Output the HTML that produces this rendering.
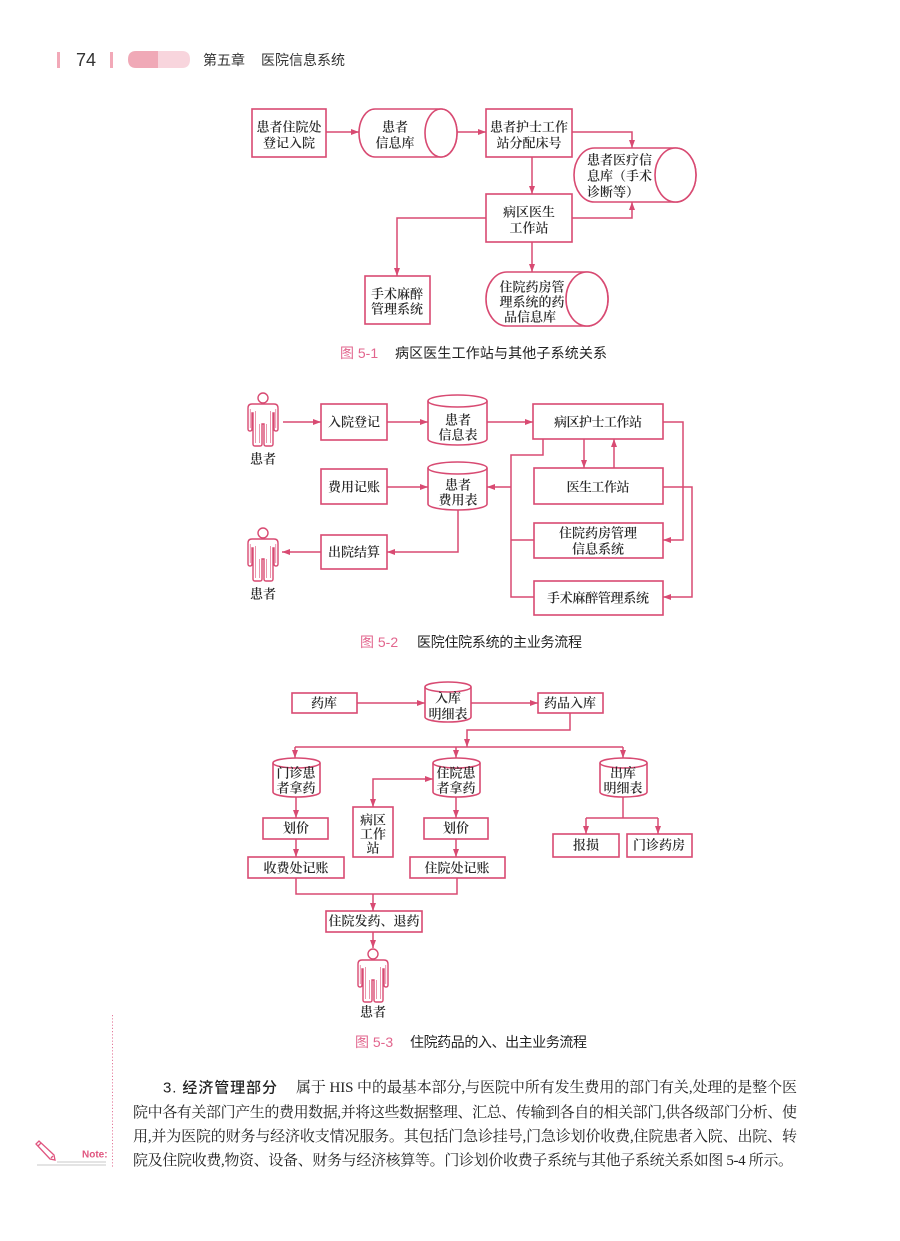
<!DOCTYPE html>
<html>
<head>
<meta charset="utf-8">
<style>
html,body{margin:0;padding:0;background:#fff;}
body{width:900px;height:1241px;overflow:hidden;}
svg{display:block;}
.ln{fill:none;stroke:#d84a72;stroke-width:1.5;}
.bx{fill:#fff;stroke:#d84a72;stroke-width:1.6;}
.t{font-family:"Liberation Serif","Noto Serif CJK SC",serif;font-size:13px;font-weight:600;fill:#2a2a2a;text-anchor:middle;dominant-baseline:central;}
.tl{font-family:"Liberation Serif","Noto Serif CJK SC",serif;font-size:13px;font-weight:600;fill:#2a2a2a;dominant-baseline:central;}
.cap{font-family:"Liberation Sans","Noto Sans CJK SC",sans-serif;font-size:14px;fill:#222;dominant-baseline:central;}
.capn{font-family:"Liberation Sans","Noto Sans CJK SC",sans-serif;font-size:14px;fill:#e2668e;dominant-baseline:central;}
.body{font-family:"Liberation Serif","Noto Serif CJK SC",serif;font-size:15px;fill:#222;dominant-baseline:central;}
.head{font-family:"Liberation Sans","Noto Sans CJK SC",sans-serif;font-size:15px;fill:#222;font-weight:500;dominant-baseline:central;}
.pers{fill:#fff;stroke:#d84a72;stroke-width:1.4;}
.persi{fill:none;stroke:#e88aa5;stroke-width:0.9;}
</style>
</head>
<body>
<svg width="900" height="1241" viewBox="0 0 900 1241" xmlns="http://www.w3.org/2000/svg">
<defs>
<marker id="ar" viewBox="0 0 8 6" refX="8" refY="3" markerWidth="8" markerHeight="6" markerUnits="userSpaceOnUse" orient="auto-start-reverse">
<path d="M0,0 L8,3 L0,6 Z" fill="#d84a72"/>
</marker>
<g id="person">
<circle cx="15" cy="5" r="5" class="pers"/>
<path class="pers" d="M4 11 L26 11 Q30 11 30 15 L30 36 Q30 38 28 38 Q26 38 26 36 L26 20 L25 20 L25 51 Q25 53 23 53 L18 53 Q16 53 16 51 L16 31 L14 31 L14 51 Q14 53 12 53 L7 53 Q5 53 5 51 L5 20 L4 20 L4 36 Q4 38 2 38 Q0 38 0 36 L0 15 Q0 11 4 11 Z"/>
<path class="persi" d="M2.3 16 L2.3 35 M27.7 16 L27.7 35 M7.5 18 L7.5 50 M22.5 18 L22.5 50 M11.5 31 L11.5 50 M18.5 31 L18.5 50"/>
</g>
</defs>

<!-- Header -->
<rect x="57" y="52" width="3" height="16" fill="#f2a9b8"/>
<text x="76" y="60" style="font-family:'Liberation Sans',sans-serif;font-size:18px;fill:#333;dominant-baseline:central;">74</text>
<rect x="110" y="52" width="3" height="16" fill="#f2a9b8"/>
<path d="M136 51 L158 51 L158 68 L136 68 Q128 68 128 59.5 Q128 51 136 51 Z" fill="#f0a9b7"/>
<path d="M158 51 L182 51 Q190 51 190 59.5 Q190 68 182 68 L158 68 Z" fill="#f8d5dd"/>
<text x="203" y="60" style="font-family:'Liberation Sans','Noto Sans CJK SC',sans-serif;font-size:14px;fill:#333;dominant-baseline:central;">第五章</text>
<text x="261" y="60" style="font-family:'Liberation Sans','Noto Sans CJK SC',sans-serif;font-size:14px;fill:#333;dominant-baseline:central;">医院信息系统</text>

<!-- ============ Figure 5-1 ============ -->
<g>
<path class="ln" marker-end="url(#ar)" d="M326 132 L359 132"/>
<path class="ln" marker-end="url(#ar)" d="M457 132 L486 132"/>
<path class="ln" marker-end="url(#ar)" d="M572 132 L632 132 L632 148"/>
<path class="ln" marker-end="url(#ar)" d="M532 157 L532 194"/>
<path class="ln" marker-end="url(#ar)" d="M572 218 L632 218 L632 202"/>
<path class="ln" marker-end="url(#ar)" d="M486 218 L397 218 L397 276"/>
<path class="ln" marker-end="url(#ar)" d="M532 242 L532 272"/>

<rect class="bx" x="252" y="109" width="74" height="48"/>
<text class="t" x="289" y="127">患者住院处</text>
<text class="t" x="289" y="143">登记入院</text>

<path class="bx" d="M375 109 L441 109 A16 24 0 0 1 441 157 L375 157 A16 24 0 0 1 375 109 Z"/>
<ellipse class="bx" cx="441" cy="133" rx="16" ry="24"/>
<text class="t" x="395" y="127">患者</text>
<text class="t" x="395" y="143">信息库</text>

<rect class="bx" x="486" y="109" width="86" height="48"/>
<text class="t" x="529" y="127">患者护士工作</text>
<text class="t" x="529" y="143">站分配床号</text>

<path class="bx" d="M594.5 148 L675.5 148 A20.5 27 0 0 1 675.5 202 L594.5 202 A20.5 27 0 0 1 594.5 148 Z"/>
<ellipse class="bx" cx="675.5" cy="175" rx="20.5" ry="27"/>
<text class="tl" x="587" y="160">患者医疗信</text>
<text class="tl" x="587" y="176">息库（手术</text>
<text class="tl" x="587" y="192">诊断等）</text>

<rect class="bx" x="486" y="194" width="86" height="48"/>
<text class="t" x="529" y="212">病区医生</text>
<text class="t" x="529" y="228">工作站</text>

<rect class="bx" x="365" y="276" width="65" height="48"/>
<text class="t" x="397" y="294">手术麻醉</text>
<text class="t" x="397" y="309">管理系统</text>

<path class="bx" d="M507 272 L587 272 A21 27 0 0 1 587 326 L507 326 A21 27 0 0 1 507 272 Z"/>
<ellipse class="bx" cx="587" cy="299" rx="21" ry="27"/>
<text class="t" x="532" y="287">住院药房管</text>
<text class="t" x="532" y="302">理系统的药</text>
<text class="t" x="530" y="317">品信息库</text>

<text class="capn" x="340" y="353">图 5-1</text>
<text class="cap" x="395" y="353" textLength="212" lengthAdjust="spacing">病区医生工作站与其他子系统关系</text>
</g>

<!-- ============ Figure 5-2 ============ -->
<g>
<path class="ln" marker-end="url(#ar)" d="M283 422 L321 422"/>
<path class="ln" marker-end="url(#ar)" d="M387 422 L428 422"/>
<path class="ln" marker-end="url(#ar)" d="M487 422 L533 422"/>
<path class="ln" marker-end="url(#ar)" d="M584 439 L584 468"/>
<path class="ln" marker-end="url(#ar)" d="M614 468 L614 439"/>
<path class="ln" d="M543 439 L543 455 L511 455 L511 597 L534 597"/>
<path class="ln" d="M511 540 L534 540"/>
<path class="ln" marker-end="url(#ar)" d="M511 487 L487 487"/>
<path class="ln" marker-end="url(#ar)" d="M663 422 L683 422 L683 540 L663 540"/>
<path class="ln" marker-end="url(#ar)" d="M663 487 L692 487 L692 597 L663 597"/>
<path class="ln" marker-end="url(#ar)" d="M387 487 L428 487"/>
<path class="ln" marker-end="url(#ar)" d="M458 510 L458 552 L387 552"/>
<path class="ln" marker-end="url(#ar)" d="M321 552 L282 552"/>

<use href="#person" x="248" y="393"/>
<text class="t" x="263" y="459">患者</text>
<use href="#person" x="248" y="528"/>
<text class="t" x="263" y="594">患者</text>

<rect class="bx" x="321" y="404" width="66" height="36"/>
<text class="t" x="354" y="422">入院登记</text>

<path class="bx" d="M428 401 A29.5 6 0 0 1 487 401 L487 439 A29.5 6 0 0 1 428 439 Z"/>
<path class="ln" d="M428 401 A29.5 6 0 0 0 487 401"/>
<text class="t" x="458" y="420">患者</text>
<text class="t" x="458" y="435">信息表</text>

<rect class="bx" x="533" y="404" width="130" height="35"/>
<text class="t" x="598" y="422" textLength="88" lengthAdjust="spacing">病区护士工作站</text>

<rect class="bx" x="534" y="468" width="129" height="36"/>
<text class="t" x="598" y="487" textLength="63" lengthAdjust="spacing">医生工作站</text>

<rect class="bx" x="534" y="523" width="129" height="35"/>
<text class="t" x="598" y="533">住院药房管理</text>
<text class="t" x="598" y="549">信息系统</text>

<rect class="bx" x="534" y="581" width="129" height="34"/>
<text class="t" x="598" y="598" textLength="102" lengthAdjust="spacing">手术麻醉管理系统</text>

<rect class="bx" x="321" y="469" width="66" height="35"/>
<text class="t" x="354" y="487">费用记账</text>

<path class="bx" d="M428 468 A29.5 6 0 0 1 487 468 L487 504 A29.5 6 0 0 1 428 504 Z"/>
<path class="ln" d="M428 468 A29.5 6 0 0 0 487 468"/>
<text class="t" x="458" y="485">患者</text>
<text class="t" x="458" y="500">费用表</text>

<rect class="bx" x="321" y="535" width="66" height="34"/>
<text class="t" x="354" y="552">出院结算</text>

<text class="capn" x="360" y="642">图 5-2</text>
<text class="cap" x="417" y="642" textLength="165" lengthAdjust="spacing">医院住院系统的主业务流程</text>
</g>

<!-- ============ Figure 5-3 ============ -->
<g>
<path class="ln" marker-end="url(#ar)" d="M357 703 L425 703"/>
<path class="ln" marker-end="url(#ar)" d="M471 703 L538 703"/>
<path class="ln" marker-end="url(#ar)" d="M570 713 L570 730 L467 730 L467 747"/>
<path class="ln" d="M295 747 L623 747"/>
<path class="ln" marker-end="url(#ar)" d="M295 747 L295 758"/>
<path class="ln" marker-end="url(#ar)" d="M456 747 L456 758"/>
<path class="ln" marker-end="url(#ar)" d="M623 747 L623 758"/>
<path class="ln" marker-start="url(#ar)" marker-end="url(#ar)" d="M433 779 L373 779 L373 807"/>
<path class="ln" marker-end="url(#ar)" d="M296 797 L296 818"/>
<path class="ln" marker-end="url(#ar)" d="M296 839 L296 857"/>
<path class="ln" marker-end="url(#ar)" d="M456 797 L456 818"/>
<path class="ln" marker-end="url(#ar)" d="M456 839 L456 857"/>
<path class="ln" d="M296 878 L296 894 L457 894 L457 878"/>
<path class="ln" marker-end="url(#ar)" d="M373 894 L373 911"/>
<path class="ln" marker-end="url(#ar)" d="M373 932 L373 948"/>
<path class="ln" d="M623 797 L623 818"/>
<path class="ln" d="M586 818 L658 818"/>
<path class="ln" marker-end="url(#ar)" d="M586 818 L586 834"/>
<path class="ln" marker-end="url(#ar)" d="M658 818 L658 834"/>

<rect class="bx" x="292" y="693" width="65" height="20"/>
<text class="t" x="324" y="703">药库</text>

<path class="bx" d="M425 687 A23 5 0 0 1 471 687 L471 717 A23 5 0 0 1 425 717 Z"/>
<path class="ln" d="M425 687 A23 5 0 0 0 471 687"/>
<text class="t" x="448" y="698">入库</text>
<text class="t" x="448" y="714">明细表</text>

<rect class="bx" x="538" y="693" width="65" height="20"/>
<text class="t" x="570" y="703">药品入库</text>

<path class="bx" d="M273 763 A23.5 5 0 0 1 320 763 L320 792 A23.5 5 0 0 1 273 792 Z"/>
<path class="ln" d="M273 763 A23.5 5 0 0 0 320 763"/>
<text class="t" x="296" y="773">门诊患</text>
<text class="t" x="296" y="788">者拿药</text>

<path class="bx" d="M433 763 A23.5 5 0 0 1 480 763 L480 792 A23.5 5 0 0 1 433 792 Z"/>
<path class="ln" d="M433 763 A23.5 5 0 0 0 480 763"/>
<text class="t" x="456" y="773">住院患</text>
<text class="t" x="456" y="788">者拿药</text>

<path class="bx" d="M600 763 A23.5 5 0 0 1 647 763 L647 792 A23.5 5 0 0 1 600 792 Z"/>
<path class="ln" d="M600 763 A23.5 5 0 0 0 647 763"/>
<text class="t" x="623" y="773">出库</text>
<text class="t" x="623" y="788">明细表</text>

<rect class="bx" x="353" y="807" width="40" height="50"/>
<text class="t" x="373" y="820">病区</text>
<text class="t" x="373" y="834">工作</text>
<text class="t" x="373" y="848">站</text>

<rect class="bx" x="263" y="818" width="65" height="21"/>
<text class="t" x="296" y="828">划价</text>
<rect class="bx" x="424" y="818" width="64" height="21"/>
<text class="t" x="456" y="828">划价</text>

<rect class="bx" x="248" y="857" width="96" height="21"/>
<text class="t" x="296" y="868">收费处记账</text>
<rect class="bx" x="410" y="857" width="95" height="21"/>
<text class="t" x="457" y="868">住院处记账</text>

<rect class="bx" x="553" y="834" width="66" height="23"/>
<text class="t" x="586" y="845">报损</text>
<rect class="bx" x="627" y="834" width="65" height="23"/>
<text class="t" x="659" y="845">门诊药房</text>

<rect class="bx" x="326" y="911" width="96" height="21"/>
<text class="t" x="374" y="921">住院发药、退药</text>

<use href="#person" x="358" y="949"/>
<text class="t" x="373" y="1012">患者</text>

<text class="capn" x="355" y="1042">图 5-3</text>
<text class="cap" x="410" y="1042" textLength="177" lengthAdjust="spacing">住院药品的入、出主业务流程</text>
</g>

<!-- Margin note -->
<line x1="112.5" y1="1015" x2="112.5" y2="1168" stroke="#e57a9b" stroke-width="1" stroke-dasharray="1.2 2"/>
<g fill="none" stroke="#e0557f" stroke-width="1.3">
<path d="M36 1144 L39 1141 L54 1155 L55 1160 L50 1159 Z"/>
<path d="M38 1146 L41 1143"/>
<path d="M51 1158 L53 1156"/>
</g>
<text x="82" y="1155" style="font-family:'Liberation Sans',sans-serif;font-size:10px;font-weight:bold;fill:#e0557f;dominant-baseline:central;">Note:</text>
<line x1="57" y1="1162" x2="106" y2="1162" stroke="#c8c8c8" stroke-width="1"/>
<line x1="37" y1="1165" x2="106" y2="1165" stroke="#c8c8c8" stroke-width="1"/>

<!-- Body text -->
<text class="head" x="163" y="1088" textLength="114" lengthAdjust="spacing">3. 经济管理部分</text>
<text class="body" x="296" y="1088" textLength="501" lengthAdjust="spacing">属于 HIS 中的最基本部分,与医院中所有发生费用的部门有关,处理的是整个医</text>
<text class="body" x="133" y="1113" textLength="664" lengthAdjust="spacing">院中各有关部门产生的费用数据,并将这些数据整理、汇总、传输到各自的相关部门,供各级部门分析、使</text>
<text class="body" x="133" y="1137" textLength="664" lengthAdjust="spacing">用,并为医院的财务与经济收支情况服务。其包括门急诊挂号,门急诊划价收费,住院患者入院、出院、转</text>
<text class="body" x="133" y="1161" textLength="660" lengthAdjust="spacing">院及住院收费,物资、设备、财务与经济核算等。门诊划价收费子系统与其他子系统关系如图 5-4 所示。</text>
</svg>
</body>
</html>
